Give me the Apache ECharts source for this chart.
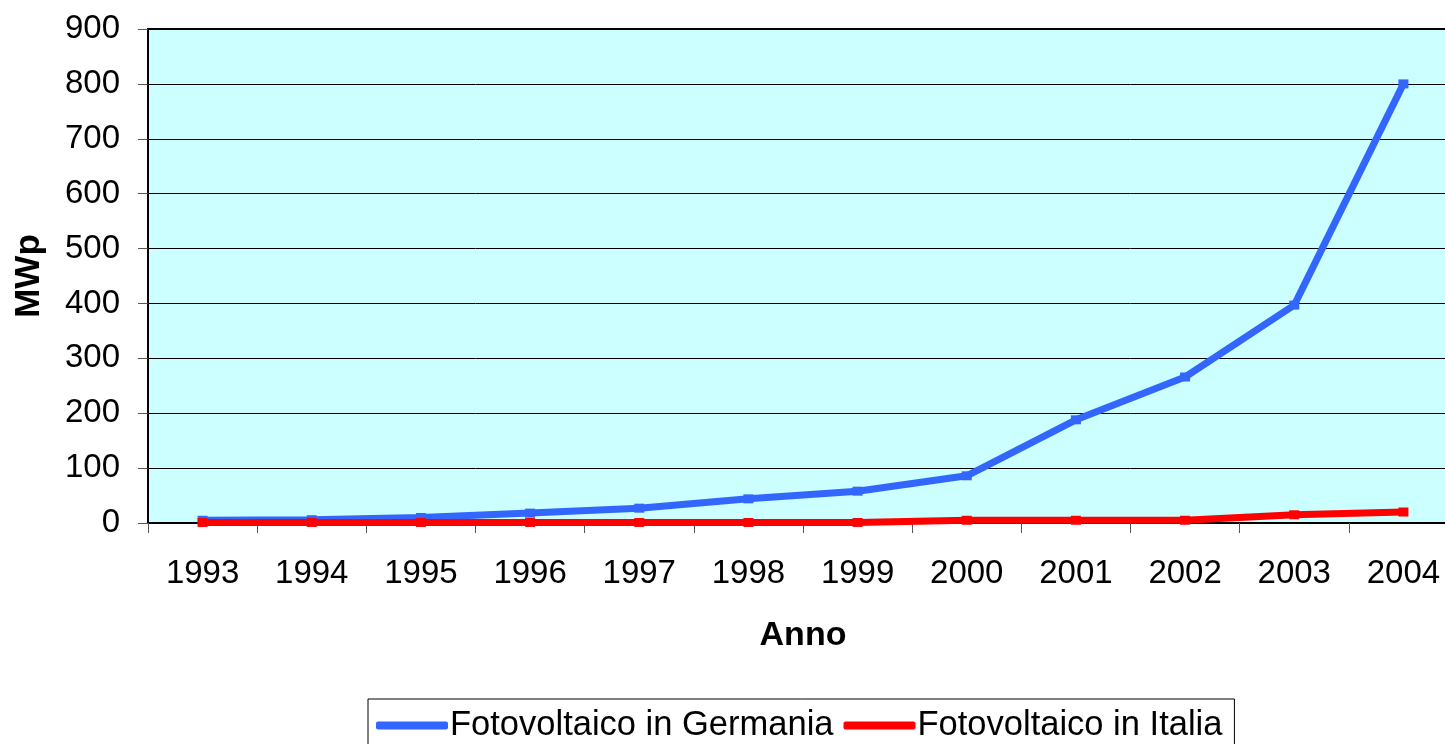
<!DOCTYPE html>
<html>
<head>
<meta charset="utf-8">
<script src="https://cdn.jsdelivr.net/npm/echarts@6/dist/echarts.min.js"></script>
<style>
html, body { margin: 0; padding: 0; background: #fff; overflow: hidden; }
/* the plot runs a little past the right edge of the window, as in the original */
#chart { width: 1458px; height: 744px; }
</style>
</head>
<body>
<div id="chart"></div>
<script>
var anni = ['1993', '1994', '1995', '1996', '1997', '1998', '1999', '2000', '2001', '2002', '2003', '2004'];
var germania = [5, 6, 10, 18, 27, 44, 58, 86, 188, 266, 397, 800];
var italia = [1, 1, 1, 1, 1, 1, 1, 5, 5, 5, 15, 20];
var yMin = 0, yMax = 900, yStep = 100;

(function () {
    'use strict';
    var myChart = echarts.init(document.getElementById('chart'));
    var font = 'Liberation Sans, Arial, sans-serif';

    var option = {
        backgroundColor: '#fff',
        animation: false,
        grid: {
            left: 148,
            top: 29,
            right: 0,
            bottom: 221,
            show: true,
            backgroundColor: '#ccffff',
            borderColor: '#000',
            borderWidth: 2
        },
        legend: {
            left: 368,
            top: 699,
            padding: [9, 12, 10, 8],
            itemGap: 10,
            itemWidth: 72,
            itemHeight: 8,
            borderColor: '#000',
            borderWidth: 1,
            backgroundColor: '#fff',
            textStyle: { fontFamily: font, fontSize: 34.5, color: '#000', padding: [0, 0, 0, -3] },
            data: [
                { name: 'Fotovoltaico in Germania', icon: 'roundRect' },
                { name: 'Fotovoltaico in Italia', icon: 'roundRect' }
            ]
        },
        xAxis: {
            type: 'category',
            data: anni,
            boundaryGap: true,
            name: 'Anno',
            nameLocation: 'middle',
            nameGap: 96,
            nameTextStyle: { fontFamily: font, fontSize: 34, fontWeight: 'bold', color: '#000' },
            axisLine: { lineStyle: { color: '#000', width: 2 } },
            axisTick: { show: true, length: 10, lineStyle: { color: '#555' } },
            axisLabel: { fontFamily: font, fontSize: 33, color: '#000', margin: 34 }
        },
        yAxis: {
            type: 'value',
            min: yMin,
            max: yMax,
            interval: yStep,
            name: 'MWp',
            nameLocation: 'middle',
            nameGap: 101,
            nameTextStyle: { fontFamily: font, fontSize: 35, fontWeight: 'bold', color: '#000' },
            axisLine: { show: true, lineStyle: { color: '#000', width: 2 } },
            axisTick: { show: true, length: 10, lineStyle: { color: '#555' } },
            axisLabel: { fontFamily: font, fontSize: 33, color: '#000', margin: 28 },
            splitLine: { show: true, lineStyle: { color: '#000', width: 1 } }
        },
        series: [
            {
                name: 'Fotovoltaico in Germania',
                type: 'line',
                data: germania,
                symbol: 'rect',
                symbolSize: [10, 9],
                showAllSymbol: true,
                lineStyle: { color: '#3366ff', width: 7 },
                itemStyle: { color: '#3366ff' }
            },
            {
                name: 'Fotovoltaico in Italia',
                type: 'line',
                data: italia,
                symbol: 'rect',
                symbolSize: [10, 9],
                showAllSymbol: true,
                lineStyle: { color: '#ff0000', width: 7 },
                itemStyle: { color: '#ff0000' }
            }
        ]
    };
    myChart.setOption(option);
    window.addEventListener('resize', function () {
        myChart.resize();
    });
})();
</script>
</body>
</html>
